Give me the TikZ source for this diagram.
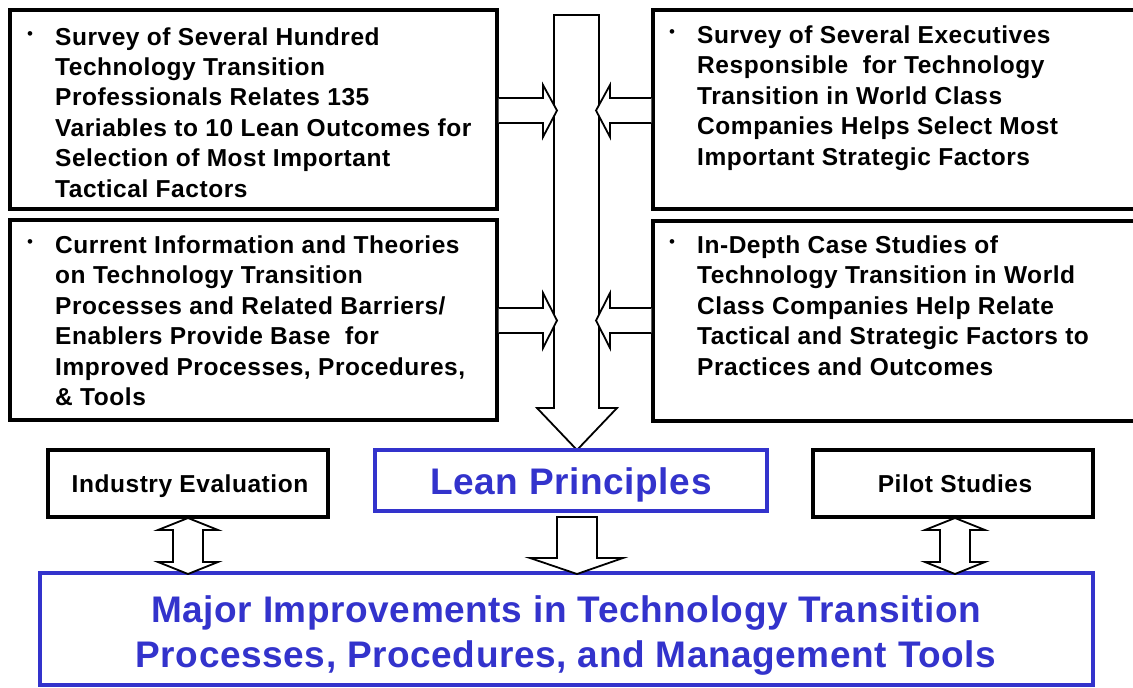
\documentclass[tikz,border=0pt]{standalone}
\usepackage{fontspec}
\setmainfont{Liberation Sans}
\newfontfamily\spbody[LetterSpace=2.2]{Liberation Sans}
\newfontfamily\spbig[LetterSpace=1.6]{Liberation Sans}
\definecolor{lblue}{RGB}{51,51,204}
\newcommand\bxfont{\spbody\fontsize{24.5}{30.5}\selectfont\bfseries}
\newcommand\bigfont{\spbig\fontsize{37}{45}\selectfont\bfseries}
\newcommand\bulfont{\fontsize{17}{19}\selectfont}
\begin{document}
\begin{tikzpicture}[x=1pt,y=-1pt,
  blk/.style={draw=black,line width=3.2pt,fill=white,inner sep=0pt},
  bbox/.style={draw=lblue,line width=3.2pt,fill=white,inner sep=0pt},
  txt/.style={anchor=base west,inner sep=0pt,font=\bxfont,align=left},
  bul/.style={inner sep=0pt,font=\bulfont},
  barrow/.style={draw=black,line width=1.8pt,fill=white,line join=miter}]
\clip (0,0) rectangle (1133,688);
\fill[white] (0,0) rectangle (1133,688);
% top boxes
\node[blk,minimum width=487pt,minimum height=199pt] (tl) at (253.5,109.5) {};
\node[blk,minimum width=487pt,minimum height=200pt] (bl) at (253.5,320) {};
\node[blk,minimum width=492pt,minimum height=199pt] (tr) at (899,109.5) {};
\node[blk,minimum width=492pt,minimum height=200pt] (br) at (899,321) {};
% texts
\node[bul] (tlb) at (30,36) {•};
\node[txt] (tlt) at (55,45) {\begin{tabular}[t]{@{}l@{}}Survey of Several Hundred\\Technology Transition\\Professionals Relates 135\\Variables to 10 Lean Outcomes for\\Selection of Most Important\\Tactical Factors\end{tabular}};
\node[bul] (trb) at (672,34) {•};
\node[txt] (trt) at (697,43) {\begin{tabular}[t]{@{}l@{}}Survey of Several Executives\\Responsible\ \ for Technology\\Transition in World Class\\Companies Helps Select Most\\Important Strategic Factors\end{tabular}};
\node[bul] (blb) at (30,244) {•};
\node[txt] (blt) at (55,253) {\begin{tabular}[t]{@{}l@{}}Current Information and Theories\\on Technology Transition\\Processes and Related Barriers/\\Enablers Provide Base\ \ for\\Improved Processes, Procedures,\\\& Tools\end{tabular}};
\node[bul] (brb) at (672,244) {•};
\node[txt] (brt) at (697,253) {\begin{tabular}[t]{@{}l@{}}In-Depth Case Studies of\\Technology Transition in World\\Class Companies Help Relate\\Tactical and Strategic Factors to\\Practices and Outcomes\end{tabular}};
% central arrow
\draw[barrow] (554,15) -- (599,15) -- (599,408) -- (617,408) -- (577,450) -- (537,408) -- (554,408) -- cycle;
% side arrows
\draw[barrow] (tl.east |- 0,98) -- (543,98) -- (543,85) -- (557,110.5) -- (543,137) -- (543,123) -- (tl.east |- 0,123);
\draw[barrow] (tr.west |- 0,98) -- (610,98) -- (610,85) -- (596,110.5) -- (610,137) -- (610,123) -- (tr.west |- 0,123);
\draw[barrow] (bl.east |- 0,308) -- (543,308) -- (543,293) -- (557,320.5) -- (543,348) -- (543,333) -- (bl.east |- 0,333);
\draw[barrow] (br.west |- 0,308) -- (610,308) -- (610,293) -- (596,320.5) -- (610,348) -- (610,333) -- (br.west |- 0,333);
% lower boxes
\node[bbox,minimum width=392pt,minimum height=61pt] (lean) at (571,480.5) {};
\node[inner sep=0pt,font=\bigfont,text=lblue,anchor=base] (leant) at (571,494) {Lean Principles};
\node[blk,minimum width=280pt,minimum height=67pt] (ind) at (188,483.5) {};
\node[inner sep=0pt,font=\bxfont,anchor=base] (indt) at (190,492) {Industry Evaluation};
\node[blk,minimum width=280pt,minimum height=67pt] (pil) at (953,483.5) {};
\node[inner sep=0pt,font=\bxfont,anchor=base] (pilt) at (955,492) {Pilot Studies};
\node[bbox,minimum width=1053pt,minimum height=112pt] (maj) at (566.5,629) {};
\node[inner sep=0pt,font=\bigfont,text=lblue,anchor=base] (maj1) at (566,622) {Major Improvements in Technology Transition};
\node[inner sep=0pt,font=\bigfont,text=lblue,anchor=base] (maj2) at (566,667) {Processes, Procedures, and Management Tools};
% lower arrows
\draw[barrow] (557,517) -- (597,517) -- (597,558) -- (623,558) -- (577,574) -- (530,558) -- (557,558) -- cycle;
\draw[barrow] (188,518) -- (218,530) -- (203,530) -- (203,562) -- (218,562) -- (188,574) -- (158,562) -- (173,562) -- (173,530) -- (158,530) -- cycle;
\draw[barrow] (955,518) -- (985,530) -- (970,530) -- (970,562) -- (985,562) -- (955,574) -- (925,562) -- (940,562) -- (940,530) -- (925,530) -- cycle;
\end{tikzpicture}
\end{document}
